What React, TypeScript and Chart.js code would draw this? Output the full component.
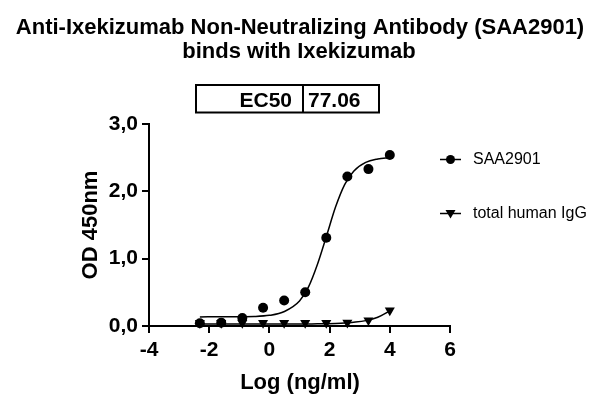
import React, { useEffect, useRef } from "react";
import { Chart, registerables } from "chart.js";

Chart.register(...registerables);

const titleLines = ["Anti-Ixekizumab Non-Neutralizing Antibody (SAA2901)", "binds with Ixekizumab"];
const ec50Label = "EC50";
const ec50Value = "77.06";
const seriesNames = ["SAA2901", "total human IgG"];
const xTitle = "Log (ng/ml)";
const yTitle = "OD 450nm";

const logConc = [-2.31, -1.6, -0.9, -0.21, 0.49, 1.19, 1.89, 2.59, 3.29, 4.0];
const saaOD = [0.04, 0.05, 0.12, 0.27, 0.38, 0.5, 1.31, 2.22, 2.33, 2.54];
const iggOD = [0.045, 0.045, 0.045, 0.045, 0.045, 0.045, 0.045, 0.05, 0.085, 0.23];

const fitLogConc = [-2.31, -1.5, -0.5, 0, 0.5, 1.0, 1.3, 1.6, 1.9, 2.2, 2.5, 2.8, 3.2, 3.6, 4.0];
const saaFit = [0.135, 0.137, 0.142, 0.158, 0.215, 0.37, 0.58, 0.92, 1.34, 1.77, 2.1, 2.3, 2.43, 2.48, 2.5];
const iggFit = [0.03, 0.03, 0.03, 0.03, 0.03, 0.03, 0.031, 0.032, 0.034, 0.037, 0.043, 0.055, 0.08, 0.13, 0.225];

const xTicks = [-4, -2, 0, 2, 4, 6];
const yTicks = [0, 1, 2, 3];
const yTickLabels = ["0,0", "1,0", "2,0", "3,0"];

const FONT = '"Liberation Sans", Arial, Helvetica, sans-serif';

const overlay = {
  id: "overlay",
  afterDraw(chart: any) {
    const ctx = chart.ctx as CanvasRenderingContext2D;
    const ca = chart.chartArea;
    ctx.save();
    ctx.fillStyle = "#000";
    ctx.strokeStyle = "#000";
    // title
    ctx.font = `bold 22px ${FONT}`;
    ctx.textAlign = "center";
    ctx.textBaseline = "alphabetic";
    ctx.fillText(titleLines[0], 300, 34);
    ctx.fillText(titleLines[1], 299, 58);
    // EC50 table
    ctx.lineWidth = 2;
    ctx.strokeRect(196, 85, 183, 27.5);
    ctx.beginPath();
    ctx.moveTo(303, 85);
    ctx.lineTo(303, 112.5);
    ctx.stroke();
    ctx.font = `bold 21px ${FONT}`;
    ctx.textAlign = "right";
    ctx.fillText(ec50Label, 292, 106.5);
    ctx.textAlign = "left";
    ctx.fillText(ec50Value, 308, 106.5);
    // axis titles
    ctx.font = `bold 22px ${FONT}`;
    ctx.textAlign = "center";
    ctx.fillText(xTitle, 300, 389);
    ctx.save();
    ctx.translate(97, (ca.top + ca.bottom) / 2);
    ctx.rotate(-Math.PI / 2);
    ctx.fillText(yTitle, 0, 0);
    ctx.restore();
    // legend
    const rows = [159.5, 213.5];
    const styles = ["circle", "triangle"];
    rows.forEach((y, i) => {
      ctx.lineWidth = 1.5;
      ctx.beginPath();
      ctx.moveTo(440, y);
      ctx.lineTo(461, y);
      ctx.stroke();
      if (styles[i] === "circle") {
        ctx.beginPath();
        ctx.arc(450.5, y, 4.5, 0, Math.PI * 2);
        ctx.fill();
      } else {
        ctx.beginPath();
        ctx.moveTo(445.5, y - 3.5);
        ctx.lineTo(455.5, y - 3.5);
        ctx.lineTo(450.5, y + 5);
        ctx.closePath();
        ctx.fill();
      }
      ctx.font = `16px ${FONT}`;
      ctx.textAlign = "left";
      ctx.textBaseline = "middle";
      ctx.fillText(seriesNames[i], 473, y);
    });
    ctx.restore();
  },
};

export default function App() {
  const ref = useRef<HTMLCanvasElement | null>(null);
  useEffect(() => {
    document.body.style.margin = "0";
    if (!ref.current) return;
    const chart = new Chart(ref.current, {
      type: "scatter",
      data: {
        datasets: [
          {
            label: seriesNames[0] + " fit",
            data: fitLogConc.map((x, i) => ({ x, y: saaFit[i] })),
            showLine: true,
            borderColor: "#000",
            borderWidth: 1.5,
            pointRadius: 0,
            cubicInterpolationMode: "monotone",
            clip: false,
          },
          {
            label: seriesNames[1] + " fit",
            data: fitLogConc.map((x, i) => ({ x, y: iggFit[i] })),
            showLine: true,
            borderColor: "#000",
            borderWidth: 1.5,
            pointRadius: 0,
            cubicInterpolationMode: "monotone",
            clip: false,
          },
          {
            label: seriesNames[0],
            data: logConc.map((x, i) => ({ x, y: saaOD[i] })),
            showLine: false,
            pointStyle: "circle",
            pointRadius: 5,
            backgroundColor: "#000",
            borderColor: "#000",
            borderWidth: 0,
            clip: false,
          },
          {
            label: seriesNames[1],
            data: logConc.map((x, i) => ({ x, y: iggOD[i] })),
            showLine: false,
            pointStyle: "triangle",
            rotation: 180,
            pointRadius: 5.8,
            backgroundColor: "#000",
            borderColor: "#000",
            borderWidth: 0,
            clip: false,
          },
        ] as any,
      },
      options: {
        animation: false,
        responsive: false,
        devicePixelRatio: 1,
        layout: { padding: { top: 124, right: 158, left: 0, bottom: 0 } },
        plugins: { legend: { display: false }, title: { display: false }, tooltip: { enabled: false } },
        scales: {
          x: {
            type: "linear",
            min: -4,
            max: 6,
            afterBuildTicks: (s: any) => {
              s.ticks = xTicks.map((v) => ({ value: v }));
            },
            afterFit: (s: any) => {
              s.height = 81;
            },
            ticks: {
              color: "#000",
              font: { family: FONT, size: 21, weight: "bold" },
              padding: 5,
              maxRotation: 0,
              autoSkip: false,
              callback: (v: any) => String(v),
            },
            grid: { drawOnChartArea: false, color: "#000", lineWidth: 2, tickLength: 7 },
            border: { color: "#000", width: 2 },
          },
          y: {
            type: "linear",
            min: 0,
            max: 3,
            afterBuildTicks: (s: any) => {
              s.ticks = yTicks.map((v) => ({ value: v }));
            },
            afterFit: (s: any) => {
              s.width = 149;
            },
            ticks: {
              color: "#000",
              font: { family: FONT, size: 21, weight: "bold" },
              padding: 4,
              autoSkip: false,
              callback: (v: any) => yTickLabels[yTicks.indexOf(Number(v))] ?? "",
            },
            grid: { drawOnChartArea: false, color: "#000", lineWidth: 2, tickLength: 7 },
            border: { color: "#000", width: 2 },
          },
        },
      },
      plugins: [overlay],
    });
    return () => chart.destroy();
  }, []);
  return (
    <div style={{ position: "absolute", left: 0, top: 0, width: 608, height: 407, background: "#fff" }}>
      <canvas ref={ref} width={608} height={407} />
    </div>
  );
}
